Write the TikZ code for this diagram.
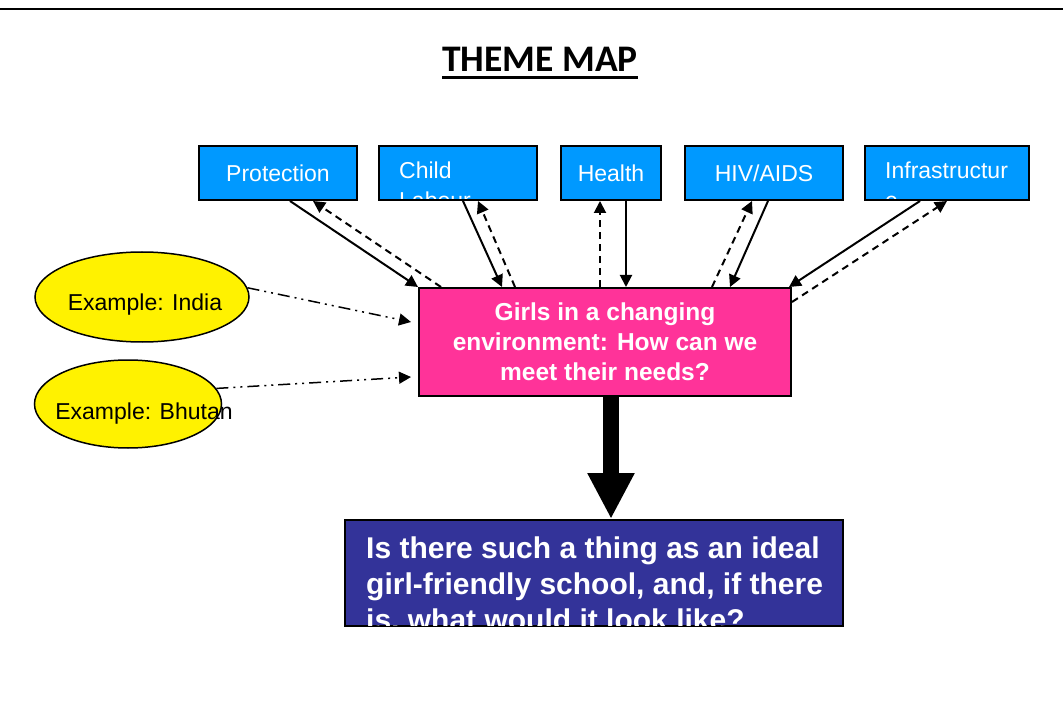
\documentclass[tikz,border=0pt]{standalone}
\usepackage{fontspec}
\setmainfont{Liberation Sans}
\newfontfamily\titlefont{Carlito}
\newsavebox{\titlebox}
\newcommand{\underlined}[1]{\sbox{\titlebox}{#1}\rlap{\rule[-7pt]{\wd\titlebox}{3pt}}\usebox{\titlebox}}
\usepackage{tikz}
\usetikzlibrary{arrows.meta,shapes.geometric}
\usetikzlibrary{positioning}
\definecolor{topicblue}{RGB}{0,153,255}
\definecolor{girlspink}{RGB}{255,51,153}
\definecolor{questionblue}{RGB}{51,51,153}
\tikzset{
    topic/.style={
           rectangle,
           draw=black, line width=2pt,
           fill=topicblue,
           inner sep=0pt,
           minimum height=54pt,
           text=white,
           font=\fontsize{23}{28}\selectfont,
           },
}
\tikzset{
    cliptext/.style={
           inner sep=0pt,
           align=left,
           anchor=north west,
           text=white,
           },
}
\tikzset{
    example/.style={
           ellipse,
           draw=black, line width=1.5pt,
           fill=yellow,
           inner sep=0pt,
           },
}
\tikzset{
    flow/.style={line width=2pt},
    back/.style={line width=2pt, dash pattern=on 7pt off 5pt},
    case/.style={line width=1.5pt, dash pattern=on 12pt off 5pt on 2pt off 5pt on 2pt off 5pt},
}

\begin{document}
\begin{tikzpicture}[x=1pt,y=-1pt,->,>={Triangle[length=12pt,width=12pt]}]

 \useasboundingbox (0,0) rectangle (1063,719);
 \draw[-, line width=2pt] (0,9) -- (1063,9);

 \node[anchor=base, font=\titlefont\bfseries\fontsize{37.5}{44}\selectfont] (title)
 at (540,72) {\underlined{THEME MAP}};

 % topics along the top
 \node[topic, minimum width=158pt] (prot) at (278,173) {Protection};
 \node[topic, minimum width=158pt, right=20pt of prot] (child) {};
 \node[topic, minimum width=100pt, right=22pt of child] (health) {Health};
 \node[topic, minimum width=158pt, right=22pt of health] (hiv) {HIV/AIDS};
 \node[topic, minimum width=164pt, right=20pt of hiv] (infra) {};

 % texts cut off by their boxes
 \begin{scope}
  \clip ([shift={(2,-2)}]child.south west) rectangle ([shift={(-2,2)}]child.north east);
  \node[cliptext, font=\fontsize{23}{30}\selectfont] (childtext)
   at ([xshift=21,yshift=-17]child.north west) {Child\\Labour};
 \end{scope}
 \begin{scope}
  \clip ([shift={(2,-2)}]infra.south west) rectangle ([shift={(-2,2)}]infra.north east);
  \node[cliptext, font=\fontsize{23}{30}\selectfont] (infratext)
   at ([xshift=21,yshift=-17]infra.north west) {Infrastructur\\e};
 \end{scope}

 % centre
 \node[rectangle,
  draw=black, line width=2pt,
  fill=girlspink,
  minimum width=372pt,
  minimum height=108pt,
  text=white,
  align=center,
  font=\bfseries\fontsize{24.5}{30}\selectfont] (girls) at (605,342)
 {Girls in a changing\\environment: How can we\\meet their needs?};

 % examples
 \node[example, minimum width=214pt, minimum height=90pt] (india) at (142,297) {};
 \node[font=\fontsize{23}{28}\selectfont] (indiatext) at (145,305) {Example: India};
 \node[example, minimum width=187pt, minimum height=88pt] (bhutan) at (128,404) {};
 \node[font=\fontsize{23}{28}\selectfont] (bhutantext) at (144,414) {Example: Bhutan};

 % question
 \node[rectangle,
  draw=black, line width=2pt,
  fill=questionblue,
  minimum width=498pt,
  minimum height=106pt] (quest) at (594,573)
 {};
 \begin{scope}
  \clip ([shift={(2,-2)}]quest.south west) rectangle ([shift={(-2,2)}]quest.north east);
  \node[cliptext, font=\bfseries\fontsize{30}{36}\selectfont] (questtext)
   at ([xshift=22,yshift=-18]quest.north west)
   {Is there such a thing as an ideal\\girl-friendly school, and, if there\\is, what would it look like?};
 \end{scope}

 \draw[flow] ([xshift=12]prot.south) -- (girls.north west);
 \draw[back] ([xshift=23]girls.north west) -- ([xshift=35]prot.south);
 \draw[flow] ([xshift=5]child.south) -- ([xshift=84]girls.north west);
 \draw[back] ([xshift=97]girls.north west) -- ([xshift=20]child.south);
 \draw[back] ([xshift=-5]girls.north) -- ([xshift=-11]health.south);
 \draw[flow] ([xshift=15]health.south) -- ([xshift=21]girls.north);
 \draw[back] ([xshift=107]girls.north) -- ([xshift=-12]hiv.south);
 \draw[flow] ([xshift=4]hiv.south) -- ([xshift=125]girls.north);
 \draw[flow] ([xshift=-27]infra.south) -- ([xshift=-3]girls.north east);
 \draw[back] ([yshift=-15]girls.north east) -- (infra.south);
 \draw[case] (india.5) -- ([xshift=-7,yshift=20]girls.west);
 \draw[case] (bhutan.10) -- ([xshift=-7,yshift=-35]girls.west);
 \draw[line width=16pt, -{Triangle[length=46pt,width=44pt]}]
  ([xshift=6]girls.south) -- ([xshift=17]quest.north);

\end{tikzpicture}
\end{document}
